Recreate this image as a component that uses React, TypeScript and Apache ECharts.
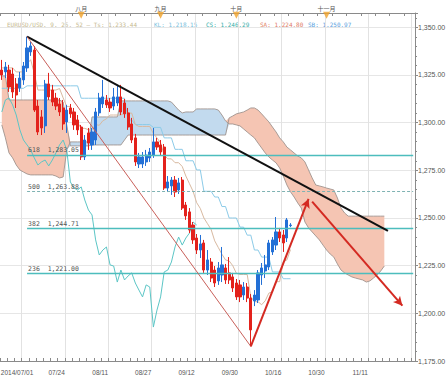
import React, { useEffect, useRef } from 'react';
import * as echarts from 'echarts';

// ---------- data ----------
const slotCount = 115;
const categories = Array.from({ length: slotCount }, (_, i) => `D${i}`);

const firstDateLabel = '2014/07/01';
const dateTickSlots = [18, 30, 42, 54, 66, 78, 90, 102];
const dateTickLabels = ['07/24', '08/11', '08/27', '09/12', '09/30', '10/16', '10/30', '11/11'];
const gridFirstSlot = 6;
const gridStep = 12;

const monthSlots = [22, 44, 65, 90];
const monthLabels = ['八月', '九月', '十月', '十一月'];

// [open, close, low, high]
const candles: number[][] = [
  [1327.6, 1325.0, 1322.4, 1332.9], [1326.6, 1329.2, 1323.4, 1331.8], [1327.6, 1318.7, 1316.1, 1330.3],
  [1325.5, 1316.1, 1312.9, 1328.7], [1320.3, 1314.5, 1307.7, 1323.4], [1318.2, 1323.4, 1316.1, 1326.6],
  [1322.4, 1329.7, 1319.8, 1331.8], [1328.7, 1339.2, 1326.6, 1345.11], [1337.1, 1340.2, 1335.0, 1342.3],
  [1338.1, 1306.6, 1305.6, 1340.2], [1308.7, 1295.1, 1293.5, 1311.9], [1303.0, 1297.2, 1293.5, 1306.6],
  [1298.3, 1320.3, 1294.6, 1322.4], [1320.3, 1313.5, 1311.9, 1326.1], [1317.1, 1310.8, 1308.7, 1319.8],
  [1312.9, 1308.7, 1306.6, 1315.6], [1309.8, 1305.6, 1303.5, 1312.9], [1307.7, 1299.3, 1296.2, 1311.9],
  [1300.4, 1306.6, 1294.6, 1309.3], [1307.7, 1304.6, 1302.5, 1309.8], [1305.6, 1298.8, 1296.2, 1307.7],
  [1301.4, 1296.2, 1293.5, 1304.0], [1297.7, 1282.0, 1280.4, 1298.8], [1282.0, 1290.9, 1280.4, 1293.5],
  [1294.6, 1289.3, 1285.7, 1297.2], [1288.3, 1295.1, 1285.7, 1297.2], [1290.9, 1305.6, 1288.3, 1307.7],
  [1305.1, 1312.9, 1303.5, 1315.6], [1309.8, 1313.5, 1307.7, 1322.4], [1311.9, 1309.3, 1307.7, 1314.5],
  [1310.8, 1307.7, 1305.6, 1312.9], [1308.7, 1313.5, 1306.6, 1318.2], [1310.3, 1313.5, 1308.7, 1319.8],
  [1313.5, 1305.6, 1304.0, 1319.8], [1310.3, 1304.6, 1302.5, 1312.4], [1305.1, 1297.7, 1296.2, 1307.7],
  [1299.3, 1290.9, 1289.3, 1302.5], [1292.0, 1279.4, 1277.3, 1294.1], [1278.3, 1282.0, 1276.2, 1284.1],
  [1278.3, 1282.0, 1276.2, 1284.6], [1279.4, 1283.0, 1277.3, 1285.7], [1281.5, 1284.6, 1279.4, 1286.7],
  [1283.0, 1289.9, 1281.5, 1297.2], [1289.9, 1287.2, 1285.7, 1292.0], [1288.3, 1284.6, 1282.5, 1290.9],
  [1287.2, 1265.7, 1264.7, 1288.8], [1265.7, 1268.9, 1263.6, 1272.0], [1266.8, 1269.9, 1262.1, 1271.5],
  [1269.9, 1263.6, 1261.0, 1272.0], [1264.7, 1268.4, 1262.6, 1271.0], [1269.9, 1255.2, 1254.2, 1271.5],
  [1256.8, 1251.1, 1249.0, 1258.4], [1253.2, 1243.7, 1242.1, 1255.2], [1246.3, 1238.5, 1236.4, 1247.9],
  [1239.5, 1233.2, 1231.1, 1241.6], [1233.2, 1236.4, 1229.0, 1241.1], [1236.9, 1222.7, 1221.2, 1238.5],
  [1222.7, 1228.0, 1220.1, 1233.2], [1226.9, 1218.5, 1216.4, 1229.0], [1222.7, 1215.9, 1213.8, 1224.8],
  [1217.0, 1223.8, 1214.9, 1226.9], [1220.1, 1225.4, 1216.4, 1234.8], [1223.8, 1217.5, 1215.4, 1225.9],
  [1221.2, 1217.5, 1215.4, 1229.5], [1219.1, 1213.3, 1211.2, 1221.2], [1215.9, 1208.6, 1207.0, 1218.0],
  [1214.9, 1208.6, 1205.9, 1217.5], [1209.6, 1213.8, 1207.0, 1216.4], [1213.8, 1208.0, 1205.9, 1215.9],
  [1208.0, 1191.3, 1182.65, 1210.1], [1206.5, 1209.6, 1203.8, 1212.2], [1207.0, 1221.2, 1205.4, 1222.7],
  [1220.1, 1223.8, 1214.9, 1226.4], [1222.2, 1225.4, 1218.5, 1230.6], [1224.3, 1236.9, 1222.7, 1238.5],
  [1232.2, 1238.5, 1230.6, 1240.0], [1235.8, 1242.7, 1233.2, 1250.5], [1242.7, 1239.5, 1237.4, 1244.8],
  [1241.1, 1236.9, 1232.2, 1243.7], [1239.5, 1249.0, 1237.4, 1250.0], [1246.0, 1246.29, 1245.2, 1247.3],
];

const tenkan = [
  1328.7, 1328.7, 1328.7, 1328.7, 1326.6, 1326.6, 1326.6, 1330.9, 1333.0, 1325.8,
  1317.1, 1317.1, 1317.1, 1317.1, 1317.1, 1317.1, 1317.9, 1313.0, 1308.5, 1308.5,
  1303.4, 1300.0, 1297.0, 1297.0, 1296.3, 1296.3, 1299.0, 1298.6, 1301.0, 1302.0,
  1304.0, 1304.0, 1304.0, 1304.0, 1305.0, 1305.0, 1305.0, 1299.0, 1298.0, 1298.0,
  1298.0, 1298.0, 1294.3, 1292.0, 1289.4, 1283.0, 1281.0, 1281.0, 1279.0, 1279.0,
  1277.0, 1272.0, 1268.0, 1264.0, 1258.0, 1255.0, 1250.0, 1247.0, 1244.0, 1238.0,
  1234.5, 1231.0, 1228.0, 1227.5, 1225.0, 1221.0, 1220.4, 1220.4, 1220.4, 1208.7,
  1206.1, 1206.1, 1204.5, 1206.6, 1210.6, 1211.3, 1216.6, 1216.6, 1227.2, 1228.0,
  1233.44,
];

const kijun = [
  1318.0, 1318.0, 1318.0, 1318.0, 1318.0, 1318.0, 1318.0, 1319.3, 1319.3, 1319.3,
  1319.3, 1319.3, 1319.3, 1319.3, 1319.3, 1319.3, 1319.3, 1319.3, 1319.3, 1319.3,
  1319.3, 1319.3, 1312.8, 1312.8, 1312.8, 1312.8, 1312.8, 1312.8, 1312.8, 1312.8,
  1312.8, 1312.8, 1312.8, 1312.8, 1312.8, 1301.4, 1301.4, 1299.0, 1299.0, 1299.0,
  1299.0, 1299.0, 1297.5, 1297.5, 1297.5, 1292.0, 1292.0, 1292.0, 1286.0, 1286.0,
  1286.0, 1280.0, 1280.0, 1280.0, 1275.2, 1275.2, 1264.0, 1264.0, 1264.0, 1261.0,
  1261.0, 1256.0, 1256.0, 1250.0, 1250.0, 1250.0, 1245.2, 1245.2, 1241.0, 1241.0,
  1233.2, 1233.2, 1229.5, 1229.5, 1229.5, 1221.7, 1221.7, 1221.7, 1218.15, 1218.15,
  1218.15,
];

const chikou = [
  1305.6, 1311.9, 1312.9, 1309.3, 1304.0, 1296.2, 1290.9, 1288.3, 1285.7, 1281.5,
  1277.8, 1279.4, 1280.4, 1277.3, 1280.4, 1284.1, 1288.3, 1290.9, 1285.7, 1268.9,
  1265.7, 1264.7, 1266.3, 1259.4, 1254.2, 1251.6, 1238.5, 1230.6, 1233.2, 1234.8,
  1225.4, 1224.8, 1216.4, 1222.7, 1217.5, 1219.6, 1221.2, 1215.9, 1212.2, 1208.6,
  1214.9, 1213.8, 1192.8, 1201.7, 1208.6, 1221.7, 1222.7, 1226.9, 1234.8, 1240.0,
  1235.8, 1239.5, 1242.1, 1247.9, 1246.29,
];

const spanA = [
  1298.8, 1292.0, 1284.1, 1281.5, 1277.8, 1275.2, 1274.1, 1273.1, 1272.6, 1272.6,
  1272.6, 1272.6, 1272.6, 1272.6, 1272.6, 1272.0, 1271.0, 1271.5, 1285.7, 1289.9,
  1289.9, 1289.9, 1289.9, 1289.9, 1289.9, 1303.0, 1303.0, 1303.0, 1303.0, 1303.0,
  1303.0, 1303.0, 1303.0, 1311.4, 1311.4, 1311.4, 1311.4, 1311.4, 1311.4, 1311.4,
  1311.4, 1311.4, 1311.4, 1311.4, 1311.4, 1311.4, 1311.4, 1310.8, 1308.7, 1306.6,
  1305.1, 1305.6, 1305.6, 1305.6, 1307.2, 1307.2, 1307.2, 1307.2, 1307.2, 1307.2,
  1306.6, 1304.0, 1300.9, 1299.3, 1299.3, 1298.8, 1298.3, 1296.7, 1295.1, 1293.5,
  1292.0, 1289.3, 1286.7, 1284.1, 1282.0, 1280.4, 1278.9, 1276.2, 1272.0, 1267.3,
  1263.71, 1261.0, 1257.9, 1255.2, 1247.9, 1244.8, 1242.7, 1240.6, 1238.5, 1235.8,
  1233.2, 1231.1, 1229.5, 1225.9, 1222.7, 1221.2, 1220.1, 1219.1, 1218.5, 1218.0,
  1217.5, 1216.4, 1217.0, 1218.5, 1220.1, 1222.2, 1224.8,
];

const spanB = [
  1324.5, 1324.5, 1311.9, 1311.9, 1311.9, 1311.9, 1311.9, 1311.9, 1311.9, 1311.9,
  1311.9, 1311.9, 1311.9, 1311.9, 1311.9, 1311.9, 1311.9, 1310.8, 1298.8, 1287.8,
  1287.8, 1287.8, 1287.8, 1287.8, 1287.8, 1288.3, 1288.3, 1288.3, 1288.3, 1288.3,
  1288.3, 1288.3, 1288.3, 1288.3, 1290.9, 1293.5, 1293.5, 1293.5, 1293.5, 1293.5,
  1293.5, 1293.5, 1293.5, 1293.5, 1293.5, 1293.5, 1293.5, 1293.5, 1293.5, 1293.5,
  1293.5, 1293.5, 1293.5, 1293.5, 1293.5, 1293.5, 1293.5, 1293.5, 1293.5, 1293.5,
  1293.5, 1293.5, 1293.5, 1302.5, 1303.5, 1304.6, 1305.1, 1305.6, 1306.6, 1307.7,
  1307.7, 1306.6, 1304.6, 1302.5, 1300.4, 1297.7, 1295.1, 1292.0, 1289.9, 1287.2,
  1285.7, 1284.1, 1282.5, 1281.5, 1279.4, 1275.2, 1271.0, 1267.3, 1266.8, 1266.3,
  1265.7, 1265.2, 1264.7, 1260.5, 1255.2, 1252.6, 1250.97, 1250.97, 1250.97, 1250.97,
  1250.97, 1250.97, 1250.97, 1250.97, 1250.97, 1250.97, 1250.97,
];

const fibRatios = ['618', '500', '382', '236'];
const fibValues = [1283.05, 1263.88, 1244.71, 1221.0];
const fibStartSlot = 7;
const fibEndSlot = 114;

// trend lines: [slot, price]
const blackTrend = [[7, 1345.11], [107, 1243.2]];
const thinRedTrend = [[7, 1345.11], [69, 1182.65]];
const arrowUp = [[69, 1182.65], [85, 1260.0]];
const arrowDown = [[86, 1258.6], [111, 1204.0]];

const tagSpanA = 1263.71;
const tagClose = 1246.29;
const monthMarkerPrice = 1356.3;

const header = [
  { text: 'EURUSD/USD, 9, 26, 52 — Ts: 1,233.44', x: 7, color: '#c6b98f' },
  { text: 'KL: 1,218.15', x: 154, color: '#78c0dc' },
  { text: 'CS: 1,246.29', x: 206, color: '#35aea8' },
  { text: 'SA: 1,224.80', x: 260, color: '#e07c66' },
  { text: 'SB: 1,250.97', x: 308, color: '#5a9fe0' },
];

// ---------- helpers ----------
const fmt = (v: number) =>
  v.toLocaleString('en-US', { minimumFractionDigits: 2, maximumFractionDigits: 2 });

const cloudBase = spanA.map((a, i) => Math.min(a, spanB[i]));
const cloudBull = spanA.map((a, i) => (a > spanB[i] ? +(a - spanB[i]).toFixed(2) : 0));
const cloudBear = spanA.map((a, i) => (spanB[i] > a ? +(spanB[i] - a).toFixed(2) : 0));

const trend = (pts: number[][], color: string, width: number, arrow: boolean) => [
  { coord: pts[0], symbol: 'none', lineStyle: { color, width, type: 'solid' } },
  { coord: pts[1], symbol: arrow ? 'arrow' : 'none', symbolSize: [7, 9] },
];

const axisGray = '#8a8a8a';

const option: any = {
  animation: false,
  backgroundColor: '#ffffff',
  grid: { left: 0, right: 31, top: 13, bottom: 18, containLabel: false, outerBoundsMode: 'none' },
  xAxis: [
    {
      type: 'category',
      data: categories,
      boundaryGap: true,
      axisLine: { show: true, lineStyle: { color: axisGray } },
      axisTick: { show: true, inside: true, length: 3, interval: (i: number) => i % 2 === 0, lineStyle: { color: axisGray } },
      axisLabel: {
        show: true,
        interval: (i: number) => dateTickSlots.includes(i),
        formatter: (_v: string, i: number) => {
          const k = dateTickSlots.indexOf(i);
          return k >= 0 ? dateTickLabels[k] : '';
        },
        align: 'right',
        padding: [0, 2, 0, 0],
        color: '#555',
        fontSize: 6.5,
        fontFamily: 'Liberation Sans',
        margin: 8,
      },
      splitLine: {
        show: true,
        interval: (i: number) => i >= gridFirstSlot && (i - gridFirstSlot) % gridStep === 0,
        lineStyle: { color: '#e2e2e2', width: 1 },
      },
    },
    {
      type: 'category',
      data: categories,
      position: 'top',
      boundaryGap: true,
      axisLine: { show: true, lineStyle: { color: axisGray } },
      axisTick: { show: true, inside: true, length: 3, interval: 3, lineStyle: { color: axisGray } },
      axisLabel: {
        show: true,
        interval: (i: number) => monthSlots.includes(i),
        formatter: (_v: string, i: number) => {
          const k = monthSlots.indexOf(i);
          return k >= 0 ? monthLabels[k] : '';
        },
        color: '#555',
        fontSize: 6,
        fontFamily: 'Noto Sans CJK SC',
        margin: 2,
      },
      splitLine: { show: false },
    },
    {
      type: 'category',
      data: categories,
      position: 'bottom',
      boundaryGap: true,
      axisLine: { show: false },
      axisTick: { show: false },
      splitLine: { show: false },
      axisLabel: {
        show: true,
        interval: (i: number) => i === 0,
        formatter: (_v: string, i: number) => (i === 0 ? firstDateLabel : ''),
        align: 'left',
        padding: [0, 0, 0, -1],
        color: '#555',
        fontSize: 6.5,
        fontFamily: 'Liberation Sans',
        margin: 8,
      },
    },
  ],
  yAxis: {
    type: 'value',
    position: 'right',
    min: 1175,
    max: 1357.5,
    interval: 25,
    axisLine: { show: true, lineStyle: { color: axisGray } },
    axisTick: { show: true, length: 3, lineStyle: { color: axisGray } },
    minorTick: { show: true, splitNumber: 5, length: 2, lineStyle: { color: axisGray } },
    axisLabel: {
      color: '#555',
      fontSize: 7,
      fontFamily: 'Liberation Sans',
      margin: 3,
      showMaxLabel: false,
      formatter: (v: number) => (Math.abs(v % 25) < 1e-6 ? fmt(v) : ''),
    },
    splitLine: { show: true, lineStyle: { color: '#e6e6e6' } },
    minorSplitLine: { show: false },
  },
  graphic: header.map((h) => ({
    type: 'text',
    left: h.x,
    top: 21,
    silent: true,
    style: { text: h.text, fill: h.color, fontSize: 6, fontFamily: 'DejaVu Sans Mono' },
  })),
  series: [
    {
      name: 'cloudBase', type: 'line', data: cloudBase, stack: 'kumo', symbol: 'none', silent: true,
      lineStyle: { opacity: 0 }, z: 1,
    },
    {
      name: 'cloudBull', type: 'line', data: cloudBull, stack: 'kumo', symbol: 'none', silent: true,
      lineStyle: { opacity: 0 }, areaStyle: { color: '#c2daee', opacity: 1 }, z: 1,
    },
    {
      name: 'cloudBear', type: 'line', data: cloudBear, stack: 'kumo', symbol: 'none', silent: true,
      lineStyle: { opacity: 0 }, areaStyle: { color: '#f5c5b3', opacity: 1 }, z: 1,
    },
    {
      name: 'spanA', type: 'line', data: spanA, symbol: 'none', silent: true,
      lineStyle: { color: '#a0948e', width: 0.9 }, z: 2,
    },
    {
      name: 'spanB', type: 'line', data: spanB, symbol: 'none', silent: true,
      lineStyle: { color: '#a0948e', width: 0.9 }, z: 2,
      markLine: {
        silent: true, symbol: ['none', 'none'], animation: false,
        lineStyle: { opacity: 0 },
        data: [
          { yAxis: tagSpanA, label: { show: true, position: 'end', distance: 1, formatter: fmt(tagSpanA), backgroundColor: '#f5a623', color: '#333', padding: [1, 2], fontSize: 7, fontFamily: 'Liberation Sans' } },
          { yAxis: tagClose, label: { show: true, position: 'end', distance: 1, formatter: fmt(tagClose), backgroundColor: '#5bb8ec', color: '#223', padding: [1, 2], fontSize: 7, fontFamily: 'Liberation Sans' } },
        ],
      },
    },
    {
      name: 'kijun', type: 'line', data: kijun, symbol: 'none', silent: true,
      lineStyle: { color: '#8ccbe8', width: 1 }, z: 3,
      markLine: {
        silent: true, symbol: ['none', 'none'], animation: false,
        data: fibValues.map((v, k) => [
          {
            coord: [fibStartSlot, v],
            lineStyle: k === 1
              ? { color: '#7fb3b3', width: 1, type: [3, 2] }
              : { color: '#4dbdbd', width: 1.3, type: 'solid' },
            label: {
              show: true, position: 'insideStartTop', distance: 1,
              formatter: `${fibRatios[k]}  ${fmt(v)}`,
              color: '#555', fontSize: 6.5, fontFamily: 'DejaVu Sans Mono',
            },
          },
          { coord: [fibEndSlot, v] },
        ]),
      },
    },
    {
      name: 'tenkan', type: 'line', data: tenkan, symbol: 'none', silent: true,
      lineStyle: { color: '#d8b9a0', width: 1 }, z: 3,
    },
    {
      name: 'chikou', type: 'line', data: chikou, symbol: 'none', silent: true,
      lineStyle: { color: '#5cc6c6', width: 1 }, z: 3,
    },
    {
      name: 'candles', type: 'candlestick', data: candles, barWidth: 2.7, silent: true, z: 4,
      itemStyle: {
        color: '#2370d6', color0: '#e3221c',
        borderColor: '#2370d6', borderColor0: '#e3221c', borderWidth: 1,
      },
      markLine: {
        silent: true, animation: false, label: { show: false },
        data: [
          trend(blackTrend, '#111111', 2, false),
          trend(thinRedTrend, '#c9605a', 1, false),
          trend(arrowUp, '#d42a22', 2, true),
          trend(arrowDown, '#d42a22', 2, true),
        ],
      },
    },
    {
      name: 'monthMarks', type: 'scatter', silent: true, z: 6,
      data: monthSlots.map((s) => [s, monthMarkerPrice]),
      symbol: 'triangle', symbolRotate: 180, symbolSize: 7,
      itemStyle: { color: '#f0a22a' },
    },
  ],
};

export default function App() {
  const ref = useRef<HTMLDivElement>(null);
  useEffect(() => {
    const el = ref.current;
    if (!el) return;
    const chart = echarts.init(el, undefined, { renderer: 'svg' });
    chart.setOption(option);
    return () => chart.dispose();
  }, []);
  return (
    <div
      ref={ref}
      style={{ position: 'fixed', left: 0, top: 0, width: 446, height: 379, background: '#fff' }}
    />
  );
}
